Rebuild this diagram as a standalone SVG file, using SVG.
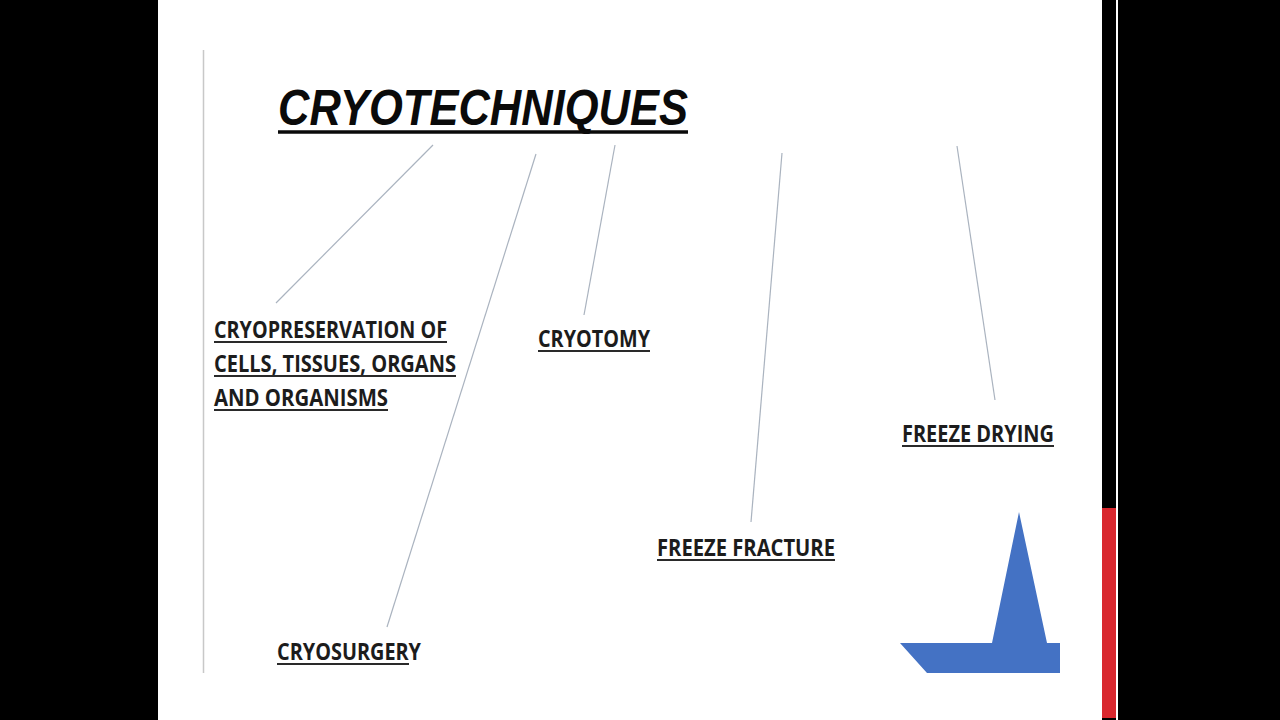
<svg xmlns="http://www.w3.org/2000/svg" width="1280" height="720" viewBox="0 0 1280 720">
<style>
.lbl{font-family:"Open Sans","Noto Sans","Liberation Sans",sans-serif;font-weight:bold;font-size:23px;fill:#1c1c1c}
.ul{stroke:#2a2a2a;stroke-width:2}
.conn{stroke:#aab3bf;stroke-width:1.2;fill:none}
</style>
<rect x="0" y="0" width="1280" height="720" fill="#000"/>
<rect x="158" y="0" width="944" height="720" fill="#fff"/>
<rect x="1116" y="0" width="2" height="720" fill="#fff"/>
<rect x="1102" y="508" width="14" height="210" fill="#d9272e"/>
<line x1="203.5" y1="50" x2="203.5" y2="673" stroke="#c8c8c8" stroke-width="1.5"/>
<g id="title">
<text x="278" y="125" font-family="Liberation Sans, Arial, sans-serif" font-weight="bold" font-style="italic" font-size="50" fill="#0a0a0a" textLength="410" lengthAdjust="spacingAndGlyphs">CRYOTECHNIQUES</text>
<line x1="278" y1="132" x2="688" y2="132" stroke="#0a0a0a" stroke-width="3.5"/>
</g>
<g id="connectors">
<line class="conn" x1="433" y1="145" x2="276" y2="303"/>
<line class="conn" x1="536" y1="154" x2="387" y2="627"/>
<line class="conn" x1="615" y1="145" x2="584" y2="315"/>
<line class="conn" x1="782" y1="153" x2="751" y2="522"/>
<line class="conn" x1="957" y1="146" x2="995" y2="400"/>
</g>
<g id="cryopreservation">
<text class="lbl" x="214" y="338" textLength="233" lengthAdjust="spacingAndGlyphs">CRYOPRESERVATION OF</text>
<line class="ul" x1="214" y1="342" x2="447" y2="342"/>
<text class="lbl" x="214" y="372" textLength="242" lengthAdjust="spacingAndGlyphs">CELLS, TISSUES, ORGANS</text>
<line class="ul" x1="214" y1="376" x2="456" y2="376"/>
<text class="lbl" x="214" y="406" textLength="174" lengthAdjust="spacingAndGlyphs">AND ORGANISMS</text>
<line class="ul" x1="214" y1="410" x2="388" y2="410"/>
</g>
<g id="cryotomy">
<text class="lbl" x="538" y="347" textLength="112" lengthAdjust="spacingAndGlyphs">CRYOTOMY</text>
<line class="ul" x1="538" y1="351" x2="650" y2="351"/>
</g>
<g id="freeze-drying">
<text class="lbl" x="902" y="442" textLength="152" lengthAdjust="spacingAndGlyphs">FREEZE DRYING</text>
<line class="ul" x1="902" y1="446" x2="1054" y2="446"/>
</g>
<g id="freeze-fracture">
<text class="lbl" x="657" y="556" textLength="178" lengthAdjust="spacingAndGlyphs">FREEZE FRACTURE</text>
<line class="ul" x1="657" y1="560" x2="835" y2="560"/>
</g>
<g id="cryosurgery">
<text class="lbl" x="277" y="660" textLength="144" lengthAdjust="spacingAndGlyphs">CRYOSURGERY</text>
<line class="ul" x1="277" y1="664" x2="409" y2="664"/>
</g>
<polygon points="1019,512 1047,643 1060,643 1060,673 927,673 900,643 992,643" fill="#4472c4"/>
</svg>
